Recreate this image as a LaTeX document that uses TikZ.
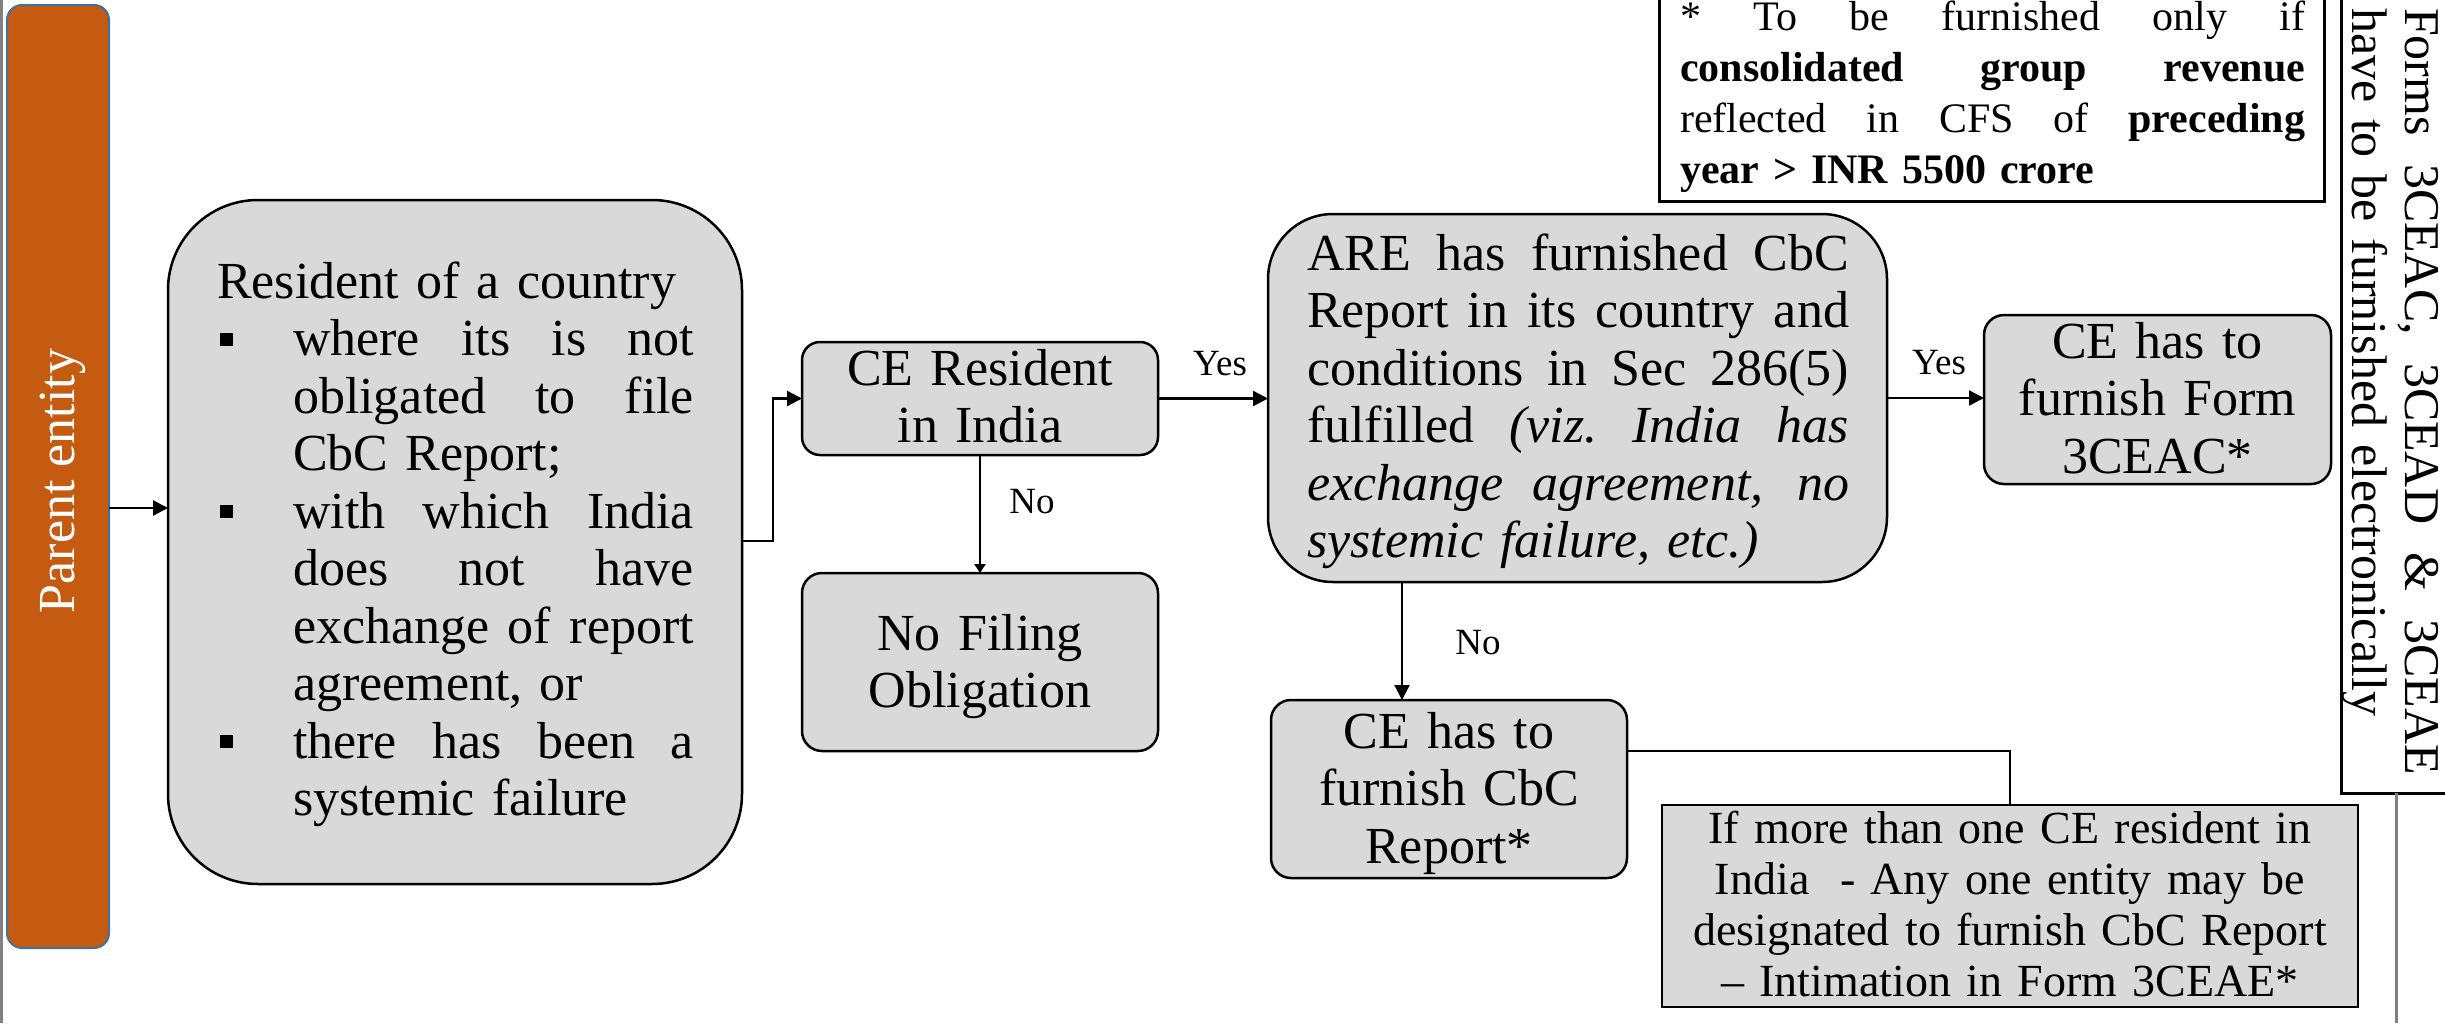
\documentclass[tikz,border=0pt]{standalone}
\usepackage{fontspec}
\setmainfont{Liberation Serif}
\usetikzlibrary{arrows.meta}

\definecolor{boxgray}{HTML}{D9D9D9}
\definecolor{parentorange}{HTML}{C55A11}
\definecolor{parentedge}{HTML}{41719C}
\definecolor{railgray}{HTML}{808080}

% one justified line, stretched to the given width
% (the node alignment fixes \spaceskip, so it is released here)
\newcommand\jl[2]{\makebox[#1][s]{\spaceskip=0pt\xspaceskip=0pt\relax#2}}
% bullet square used in the country list
\newcommand\sqbullet{\makebox[76pt][l]{\hspace{3pt}\rule[10pt]{13pt}{13pt}}}

\begin{document}
\begin{tikzpicture}[x=1pt,y=-1pt,
  box/.style={rectangle, draw, line width=2.5pt, fill=boxgray, inner sep=0pt, outer sep=0pt},
  framebox/.style={rectangle, draw, line width=3pt, fill=white, inner sep=0pt, outer sep=0pt},
  txt/.style={inner sep=0pt, outer sep=0pt, anchor=base west, align=left,
              font=\fontsize{52}{57.5}\selectfont},
  ctxt/.style={inner sep=0pt, outer sep=0pt, anchor=base, align=center,
              font=\fontsize{52}{57.5}\selectfont},
  lbl/.style={inner sep=0pt, anchor=base, font=\fontsize{37}{40}\selectfont},
  conn/.style={line width=2.3pt, -{Triangle[length=15pt,width=15pt]}},
  smallconn/.style={line width=2.3pt, -{Triangle[length=9pt,width=11pt]}},
  link/.style={line width=1.4pt}
]
\useasboundingbox (0,0) rectangle (2445,1023);
\clip (0,0) rectangle (2445,1023);

% side rail
\draw[railgray, line width=2.5pt] (1.5,0) -- (1.5,1023);

% parent entity bar
\node[rectangle, fill=parentorange, draw=parentedge, line width=2pt, rounded corners=15pt,
      minimum width=102pt, minimum height=943pt, inner sep=0pt, outer sep=0pt]
  (parent) at (58,476.5) {};
\node[rotate=90, text=white, inner sep=0pt, font=\fontsize{52}{57.5}\selectfont]
  (parent-t) at (63,481) {Parent entity};

% country conditions box
\node[box, rounded corners=90pt, minimum width=574pt, minimum height=684pt]
  (res) at (455,542) {};
\node[txt, text width=477pt] (res-t) at (217,298) {%
Resident of a country\\
\sqbullet\jl{401pt}{where its is not}\\
\hspace*{76pt}\jl{401pt}{obligated to file}\\
\hspace*{76pt}CbC Report;\\
\sqbullet\jl{401pt}{with which India}\\
\hspace*{76pt}\jl{401pt}{does not have}\\
\hspace*{76pt}\jl{401pt}{exchange of report}\\
\hspace*{76pt}agreement, or\\
\sqbullet\jl{401pt}{there has been a}\\
\hspace*{76pt}systemic failure};

% CE resident in India
\node[box, rounded corners=18pt, minimum width=356pt, minimum height=113pt]
  (ce) at (980,398.5) {};
\node[ctxt, text width=356pt] (ce-t) at (980,385) {CE Resident\\in India};

% no filing obligation
\node[box, rounded corners=20pt, minimum width=356pt, minimum height=178pt]
  (nofile) at (980,662) {};
\node[ctxt, text width=356pt] (nofile-t) at (980,650) {No Filing\\Obligation};

% ARE condition box
\node[box, rounded corners=65pt, minimum width=619pt, minimum height=368pt]
  (are) at (1577.5,398) {};
\node[txt, text width=542pt] (are-t) at (1307,270) {%
\jl{542pt}{ARE has furnished CbC}\\
\jl{542pt}{Report in its country and}\\
\jl{542pt}{conditions in Sec 286(5)}\\
\jl{542pt}{fulfilled \textit{(viz.\ India has}}\\
\jl{542pt}{\textit{exchange agreement, no}}\\
\textit{systemic failure, etc.)}};

% Form 3CEAC box
\node[box, rounded corners=20pt, minimum width=347pt, minimum height=169pt]
  (form) at (2157.5,399.5) {};
\node[ctxt, text width=347pt] (form-t) at (2157.5,358) {CE has to\\furnish Form\\3CEAC*};

% CbC report box
\node[box, rounded corners=20pt, minimum width=356pt, minimum height=178pt]
  (cbc) at (1449,789) {};
\node[ctxt, text width=356pt] (cbc-t) at (1449,748) {CE has to\\furnish CbC\\Report*};

% designation note
\node[box, line width=2pt, minimum width=696pt, minimum height=202pt]
  (intim) at (2010,906) {};
\node[ctxt, text width=696pt, font=\fontsize{46}{51}\selectfont] (intim-t) at (2010,843)
  {If more than one CE resident in\\India\ \ - Any one entity may be\\designated to furnish CbC Report\\– Intimation in Form 3CEAE*};

% threshold footnote
\node[framebox, minimum width=665pt, minimum height=221pt] (note) at (1991.5,90.5) {};
\node[txt, text width=625pt, font=\fontsize{42}{51}\selectfont] (note-t) at (1680,30) {%
\jl{625pt}{*\ To be furnished only if}\\
\jl{625pt}{\textbf{consolidated group revenue}}\\
\jl{625pt}{reflected in CFS of \textbf{preceding}}\\
\textbf{year > INR 5500 crore}};

% electronic filing banner
\node[framebox, minimum width=129pt, minimum height=813pt] (efile) at (2405.5,386.5) {};
\node[txt, rotate=-90, text width=767pt, font=\fontsize{50}{53}\selectfont] (efile-t) at (2405,8) {%
\jl{767pt}{Forms 3CEAC, 3CEAD \& 3CEAE}\\
have to be furnished electronically};
\draw[railgray, line width=3pt] (efile.south -| 2396,0) -- (2396,1023);

% connectors
\draw[conn] (parent.east |- 0,508) -- (res.west |- 0,508);
\draw[conn] (res.east |- 0,541) -- (773,541) |- (ce.west);
\draw[conn] (ce.east) -- (ce.east -| are.west);
\draw[smallconn] (ce.south) -- (nofile.north);
\draw[conn] (are.east) -- (are.east -| form.west);
\draw[conn] (are.south -| 1402,0) -- (cbc.north -| 1402,0);
\draw[link] (cbc.east |- 0,751) -| (intim.north);

% branch labels
\node[lbl] (yes1) at (1220,375) {Yes};
\node[lbl] (yes2) at (1939,374) {Yes};
\node[lbl] (no1) at (1032,513) {No};
\node[lbl] (no2) at (1478,654) {No};
\end{tikzpicture}
\end{document}
